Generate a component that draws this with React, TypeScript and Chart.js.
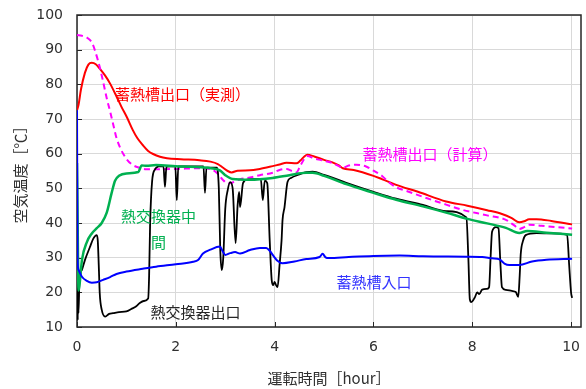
import React, { useEffect, useRef } from "react";
import { Chart, registerables } from "chart.js";

Chart.register(...registerables);

// ---- data (x: hours, y: °C) ----
const redMeasured: [number, number][] = [
  [0, 72.5], [0.03, 74], [0.08, 78.5], [0.16, 83.3], [0.23, 85.7], [0.3, 86.2], [0.38, 85.8],
  [0.46, 84.5], [0.57, 82.5], [0.67, 80.2], [0.8, 76.5], [0.9, 73.5], [1.01, 70.5], [1.13, 66.8],
  [1.22, 64.5], [1.33, 62.5], [1.44, 60.8], [1.54, 59.9], [1.68, 59.1], [1.82, 58.7], [2.1, 58.4],
  [2.48, 58.1], [2.7, 57.7], [2.85, 57], [2.95, 56], [3.05, 55], [3.13, 54.6], [3.25, 55.1],
  [3.5, 55.2], [3.7, 55.6], [3.9, 56.2], [4.1, 56.9], [4.24, 57.4], [4.44, 57.2], [4.52, 58],
  [4.6, 59.2], [4.66, 59.7], [4.8, 59.2], [5.0, 58.2], [5.17, 57.5], [5.3, 56.6], [5.38, 55.8],
  [5.6, 55.3], [6.0, 53.6], [6.18, 52.6], [6.46, 51], [6.9, 49], [7.47, 46.2], [7.9, 45],
  [8.3, 43.7], [8.6, 42.6], [8.8, 41.4], [8.95, 40.2], [9.05, 40.5], [9.15, 41.1], [9.3, 41.1],
  [9.6, 40.6], [10.02, 39.6],
];

const magentaCalc: [number, number][] = [
  [0, 94.2], [0.1, 94], [0.2, 93.5], [0.26, 92.8], [0.32, 91.5], [0.38, 89], [0.46, 85],
  [0.54, 80], [0.61, 75.5], [0.67, 72.2], [0.74, 68], [0.8, 64.5], [0.88, 61.5], [1.0, 58.5],
  [1.12, 56.8], [1.27, 55.9], [1.4, 55.5], [1.6, 55.5], [2.0, 55.6], [2.5, 55.8], [2.75, 55.3],
  [2.85, 54.2], [2.95, 52.5], [3.05, 51.4], [3.15, 51.7], [3.3, 52.6], [3.5, 53.1], [3.7, 53.8],
  [3.96, 54.5], [4.1, 55.3], [4.24, 55.6], [4.35, 55], [4.44, 54.6], [4.52, 56.5], [4.6, 58.5],
  [4.66, 59.3], [4.8, 58.6], [4.95, 58.1], [5.17, 57.3], [5.3, 56.4], [5.38, 55.9], [5.5, 56.6],
  [5.65, 56.8], [5.85, 56.3], [6.0, 55.1], [6.18, 53.5], [6.3, 51.9], [6.46, 50.3], [6.66, 49.3],
  [7.07, 47.2], [7.47, 45.3], [7.8, 43.8], [8.3, 42.2], [8.68, 40.9], [8.85, 39.3], [8.95, 38.3],
  [9.05, 38.8], [9.15, 39.5], [9.4, 39.2], [10.02, 38.4],
];

const greenMid: [number, number][] = [
  [0, 57.3], [0.01, 45], [0.02, 30], [0.03, 20.5], [0.05, 22], [0.1, 29.3], [0.2, 34.5],
  [0.3, 37], [0.4, 38.5], [0.5, 40], [0.6, 42.9], [0.7, 48.6], [0.77, 52.2], [0.85, 53.6],
  [1.0, 54.3], [1.24, 54.7], [1.31, 56.6], [1.4, 56.5], [1.6, 56.7], [2.0, 56.4], [2.48, 56.1],
  [2.75, 55.7], [2.89, 55.2], [3.0, 53.8], [3.15, 52.7], [3.5, 52.5], [3.96, 53], [4.3, 53.8],
  [4.64, 54.5], [4.77, 54.5], [5.0, 53.6], [5.45, 51.2], [6.0, 48.7], [6.46, 46.7], [7.0, 44.8],
  [7.47, 43], [7.9, 41.2], [8.3, 39.9], [8.68, 38.6], [8.95, 37.1], [9.11, 37.7], [9.5, 37.2],
  [10.02, 36.6],
];

const blackOutlet: [number, number][] = [
  [0, 13], [0.008, 24], [0.015, 12], [0.022, 20], [0.03, 14], [0.05, 23.6], [0.1, 26.5],
  [0.16, 29.3], [0.26, 33], [0.33, 35.5], [0.4, 36.5], [0.42, 35], [0.44, 28], [0.46, 19.8],
  [0.5, 15], [0.57, 13], [0.65, 13.8], [0.73, 14], [0.85, 14.3], [1.0, 14.5], [1.1, 15.2],
  [1.2, 16], [1.27, 16.9], [1.35, 17.5], [1.44, 18.2], [1.46, 25], [1.48, 40], [1.52, 52],
  [1.58, 55.5], [1.65, 56.3], [1.75, 56.4], [1.78, 50.4], [1.81, 56.3], [1.99, 56.4],
  [2.02, 46.6], [2.05, 56.3], [2.3, 56.3], [2.56, 56.3], [2.59, 48.7], [2.62, 56], [2.83, 56],
  [2.87, 50], [2.9, 32], [2.93, 26.4], [2.96, 30], [3.0, 44], [3.05, 49.5], [3.1, 51.8],
  [3.15, 50], [3.21, 34.2], [3.25, 45], [3.28, 49], [3.3, 44.6], [3.36, 51.5], [3.45, 52.5],
  [3.72, 52.7], [3.76, 46.6], [3.8, 52.2], [3.85, 51.5], [3.9, 35], [3.94, 23.6], [3.97, 22.1],
  [4.0, 23], [4.03, 22], [4.06, 21.5], [4.1, 28], [4.14, 35], [4.16, 40.9], [4.2, 44.6],
  [4.26, 51.8], [4.33, 53], [4.5, 54], [4.64, 54.7], [4.77, 54.8], [5.0, 53.9], [5.45, 51.6],
  [6.0, 49], [6.46, 47], [7.0, 45.2], [7.47, 43.4], [7.88, 41.6], [7.92, 30], [7.95, 18],
  [7.98, 17.2], [8.05, 18.5], [8.1, 20], [8.14, 19.5], [8.2, 20.8], [8.3, 21], [8.34, 21.5],
  [8.37, 30], [8.4, 37.5], [8.48, 38.8], [8.53, 38.5], [8.57, 28], [8.6, 21.5], [8.68, 20.7],
  [8.8, 20.4], [8.88, 20.1], [8.93, 18.7], [8.96, 25], [8.98, 31], [9.03, 35], [9.08, 36.5],
  [9.3, 37.1], [9.6, 37], [9.92, 36.6], [9.96, 28], [10.0, 19.8], [10.02, 18.4],
];

const blueInlet: [number, number][] = [
  [0, 72.5], [0.005, 50], [0.01, 30], [0.03, 26.5], [0.1, 24.5], [0.2, 23.3], [0.3, 22.8],
  [0.4, 22.9], [0.53, 23.6], [0.67, 24.4], [0.8, 25.3], [1.0, 26], [1.33, 26.8], [1.6, 27.4],
  [2.0, 28.1], [2.35, 28.8], [2.45, 29.3], [2.55, 31.2], [2.7, 32.3], [2.89, 33.2], [2.95, 31.8],
  [3.0, 30.8], [3.1, 31.3], [3.2, 31.6], [3.3, 31.2], [3.5, 32.2], [3.7, 32.8], [3.83, 32.8],
  [3.9, 32], [3.96, 30.8], [4.05, 29.2], [4.16, 28.4], [4.4, 28.9], [4.64, 29.6], [4.91, 30.2],
  [4.97, 31.1], [5.03, 30.1], [5.1, 29.9], [5.5, 30.2], [6.0, 30.5], [6.53, 30.6], [7.0, 30.4],
  [7.88, 30.3], [8.2, 30.2], [8.4, 29.8], [8.55, 29.5], [8.65, 28.3], [8.75, 27.9], [8.95, 27.9],
  [9.21, 28.9], [9.5, 29.4], [10.02, 29.7],
];

const xTickValues = [0, 2, 4, 6, 8, 10];
const yTickValues = [10, 20, 30, 40, 50, 60, 70, 80, 90, 100];

const seriesNames = ["蓄熱槽出口（実測）", "蓄熱槽出口（計算）", "熱交換器中間", "熱交換器出口", "蓄熱槽入口"];

// in-plot text labels (anchored in data coordinates)
const annotations = [
  { text: "蓄熱槽出口（実測）", x: 0.77, y: 77, color: "#ff0000", align: "left" },
  { text: "蓄熱槽出口（計算）", x: 5.78, y: 59.9, color: "#ff00ff", align: "left" },
  { text: "熱交換器中", x: 0.89, y: 42, color: "#00b050", align: "left" },
  { text: "間", x: 1.65, y: 34.5, color: "#00b050", align: "center" },
  { text: "熱交換器出口", x: 1.49, y: 14.3, color: "#262626", align: "left" },
  { text: "蓄熱槽入口", x: 5.25, y: 23, color: "#3333ff", align: "left" },
];

const CJK = "'Noto Sans CJK JP', 'Noto Sans', sans-serif";

const toPts = (arr: [number, number][]) => arr.map(([x, y]) => ({ x, y }));

export default function App() {
  const ref = useRef<HTMLCanvasElement | null>(null);

  useEffect(() => {
    if (!ref.current) return;

    const framePlugin = {
      id: "frame",
      beforeDatasetsDraw(chart: any) {
        const { ctx, chartArea } = chart;
        const { left, right, top, bottom } = chartArea;
        ctx.save();
        ctx.strokeStyle = "#262626";
        ctx.lineWidth = 1.5;
        ctx.strokeRect(left, top, right - left, bottom - top);
        ctx.lineWidth = 1;
        const xs = chart.scales.x;
        const ys = chart.scales.y;
        ctx.beginPath();
        yTickValues.forEach((v) => {
          const py = Math.round(ys.getPixelForValue(v)) + 0.5;
          ctx.moveTo(left, py);
          ctx.lineTo(left + 5, py);
        });
        xTickValues.forEach((v) => {
          const px = Math.round(xs.getPixelForValue(v)) + 0.5;
          ctx.moveTo(px, bottom);
          ctx.lineTo(px, bottom - 5);
        });
        ctx.stroke();
        ctx.restore();
      },
    };

    const labelPlugin = {
      id: "labels",
      afterDatasetsDraw(chart: any) {
        const { ctx } = chart;
        const xs = chart.scales.x;
        const ys = chart.scales.y;
        ctx.save();
        ctx.font = `15px ${CJK}`;
        ctx.textBaseline = "middle";
        annotations.forEach((a) => {
          ctx.fillStyle = a.color;
          ctx.textAlign = a.align as CanvasTextAlign;
          ctx.fillText(a.text, xs.getPixelForValue(a.x), ys.getPixelForValue(a.y));
        });
        ctx.restore();
      },
    };

    const chart = new Chart(ref.current, {
      type: "line",
      data: {
        datasets: [
          {
            label: seriesNames[4],
            data: toPts(blueInlet),
            borderColor: "#0000ff",
            borderWidth: 2,
            pointRadius: 0,
            cubicInterpolationMode: "monotone",
          },
          {
            label: seriesNames[2],
            data: toPts(greenMid),
            borderColor: "#00b050",
            borderWidth: 2.5,
            pointRadius: 0,
            cubicInterpolationMode: "monotone",
          },
          {
            label: seriesNames[3],
            data: toPts(blackOutlet),
            borderColor: "#000000",
            borderWidth: 1.8,
            pointRadius: 0,
            cubicInterpolationMode: "monotone",
          },
          {
            label: seriesNames[1],
            data: toPts(magentaCalc),
            borderColor: "#ff00ff",
            borderWidth: 2,
            borderDash: [6, 4],
            pointRadius: 0,
            cubicInterpolationMode: "monotone",
          },
          {
            label: seriesNames[0],
            data: toPts(redMeasured),
            borderColor: "#ff0000",
            borderWidth: 2,
            pointRadius: 0,
            cubicInterpolationMode: "monotone",
          },
        ],
      } as any,
      options: {
        animation: false,
        responsive: false,
        devicePixelRatio: 1,
        layout: { padding: { top: 15, right: 5, left: 0, bottom: 0 } },
        plugins: { legend: { display: false }, tooltip: { enabled: false } },
        scales: {
          x: {
            type: "linear",
            min: 0,
            max: 10.2,
            afterFit: (s: any) => {
              s.height = 62;
              s.paddingLeft = 0;
              s.paddingRight = 0;
            },
            afterBuildTicks: (s: any) => {
              s.ticks = xTickValues.map((v) => ({ value: v }));
            },
            ticks: {
              stepSize: 2,
              includeBounds: false,
              padding: 12,
              color: "#303030",
              font: { family: "'DejaVu Sans'", size: 14 },
              maxRotation: 0,
            },
            grid: { color: "#d9d9d9", lineWidth: 1, drawTicks: false },
            border: { display: false },
            title: {
              display: true,
              text: "運転時間［hour］",
              color: "#303030",
              font: { family: CJK, size: 15 },
              padding: { top: 0, bottom: 2 },
            },
          },
          y: {
            type: "linear",
            min: 10,
            max: 100,
            afterFit: (s: any) => {
              s.width = 77;
              s.paddingTop = 0;
              s.paddingBottom = 0;
            },
            afterBuildTicks: (s: any) => {
              s.ticks = yTickValues.map((v) => ({ value: v }));
            },
            ticks: {
              stepSize: 10,
              padding: 14,
              color: "#303030",
              font: { family: "'DejaVu Sans'", size: 14 },
            },
            grid: { color: "#d9d9d9", lineWidth: 1, drawTicks: false },
            border: { display: false },
            title: {
              display: true,
              text: "空気温度［℃］",
              color: "#303030",
              font: { family: CJK, size: 15 },
              padding: { top: 11, bottom: 0 },
            },
          },
        },
      } as any,
      plugins: [framePlugin, labelPlugin],
    });

    return () => chart.destroy();
  }, []);

  return (
    <div style={{ position: "absolute", left: 0, top: 0, width: 586, height: 389, background: "#fff" }}>
      <canvas ref={ref} width={586} height={389} style={{ width: 586, height: 389, display: "block" }} />
    </div>
  );
}
